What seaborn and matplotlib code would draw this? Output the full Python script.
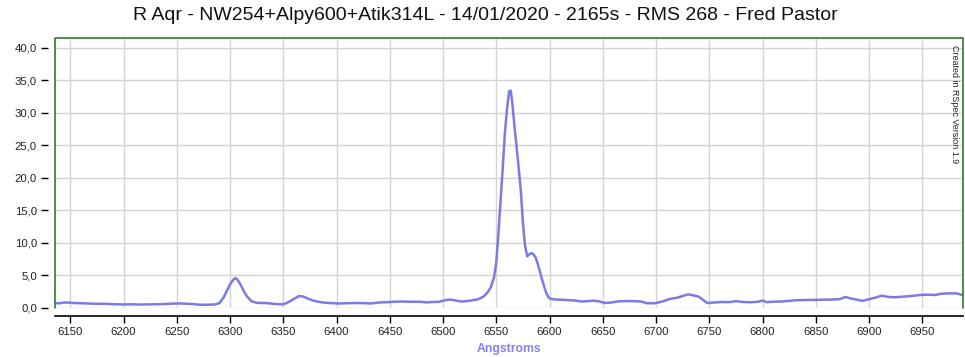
import matplotlib
matplotlib.use("Agg")
import matplotlib.pyplot as plt
import seaborn as sns
import pandas as pd
from matplotlib.ticker import FuncFormatter

wavelength = [6136, 6140, 6144, 6148, 6155, 6162, 6170, 6178, 6185, 6192, 6200, 6208, 6215, 6222,
              6230, 6238, 6245, 6252, 6258, 6265, 6272, 6280, 6286, 6290, 6294, 6297, 6300, 6303,
              6305, 6307, 6310, 6313, 6316, 6320, 6325, 6330, 6335, 6340, 6345, 6349, 6353, 6357,
              6361, 6365, 6369, 6373, 6378, 6383, 6388, 6395, 6402, 6410, 6418, 6425, 6432, 6440,
              6448, 6455, 6462, 6470, 6478, 6485, 6490, 6496, 6502, 6507, 6512, 6517, 6522, 6528,
              6533, 6538, 6542, 6545, 6548, 6550, 6552, 6554, 6556, 6558, 6560, 6562, 6563.5, 6565,
              6567, 6569, 6571, 6573, 6575, 6577, 6579, 6581, 6583, 6585, 6587, 6589, 6591, 6593,
              6595, 6597, 6599, 6601, 6606, 6612, 6618, 6624, 6630, 6636, 6641, 6647, 6652, 6658,
              6665, 6672, 6680, 6686, 6691, 6699, 6706, 6713, 6720, 6726, 6730, 6735, 6740, 6744,
              6748, 6755, 6762, 6768, 6775, 6780, 6788, 6795, 6800, 6804, 6810, 6818, 6825, 6832,
              6840, 6848, 6856, 6864, 6872, 6878, 6882, 6888, 6894, 6900, 6906, 6912, 6918, 6925,
              6932, 6940, 6948, 6955, 6962, 6968, 6975, 6982, 6988]
flux = [0.70, 0.68, 0.80, 0.78, 0.70, 0.68, 0.62, 0.60, 0.58, 0.52, 0.50, 0.52, 0.48, 0.50,
        0.52, 0.55, 0.62, 0.65, 0.62, 0.55, 0.45, 0.45, 0.50, 0.70, 1.6, 2.6, 3.6, 4.3,
        4.55, 4.3, 3.5, 2.5, 1.7, 1.0, 0.75, 0.72, 0.70, 0.60, 0.55, 0.50, 0.70, 1.05,
        1.45, 1.80, 1.70, 1.40, 1.10, 0.90, 0.78, 0.70, 0.65, 0.68, 0.72, 0.70, 0.65, 0.80,
        0.85, 0.92, 0.95, 0.90, 0.92, 0.80, 0.88, 0.90, 1.15, 1.25, 1.10, 0.95, 1.00, 1.15,
        1.30, 1.70, 2.40, 3.20, 4.80, 7.0, 11.5, 16.5, 21.5, 26.8, 30.5, 33.3, 33.4, 31.5,
        28.0, 24.8, 21.5, 18.0, 13.0, 9.5, 7.9, 8.2, 8.4, 8.2, 7.7, 6.7, 5.5, 4.3,
        3.2, 2.2, 1.6, 1.35, 1.25, 1.22, 1.15, 1.10, 0.95, 1.00, 1.08, 0.95, 0.72, 0.80,
        0.98, 1.02, 1.00, 0.95, 0.70, 0.68, 0.95, 1.35, 1.55, 1.85, 2.05, 1.90, 1.70, 1.20,
        0.72, 0.80, 0.88, 0.85, 1.00, 0.90, 0.83, 0.90, 1.08, 0.85, 0.92, 0.95, 1.05, 1.15,
        1.18, 1.20, 1.22, 1.25, 1.30, 1.65, 1.45, 1.25, 1.05, 1.30, 1.55, 1.85, 1.65, 1.60,
        1.70, 1.80, 1.95, 2.00, 1.95, 2.15, 2.20, 2.20, 1.95]

x_ticks = [6150, 6200, 6250, 6300, 6350, 6400, 6450, 6500, 6550, 6600, 6650, 6700, 6750,
           6800, 6850, 6900, 6950]
y_ticks = [0, 5, 10, 15, 20, 25, 30, 35, 40]

title = "R Aqr - NW254+Alpy600+Atik314L - 14/01/2020 - 2165s - RMS 268 - Fred Pastor"
xlabel = "Angstroms"
credit = "Created in RSpec Version 1.9"

df = pd.DataFrame({"wavelength": wavelength, "flux": flux})

sns.set_style("white")
plt.rcParams["font.family"] = ["Liberation Sans", "DejaVu Sans"]

W, H = 965, 357
fig = plt.figure(figsize=(W / 100, H / 100), dpi=100)
left, right, top, bottom = 55, 963, 38, 308
ax = fig.add_axes([left / W, 1 - bottom / H, (right - left) / W, (bottom - top) / H])

line_color = "#7b7be3"
sns.lineplot(data=df, x="wavelength", y="flux", ax=ax, color=line_color, linewidth=1.8)

ax.set_xlim(6135.6, 6988.2)
ax.set_ylim(-0.05, 41.5)
ax.set_xticks(x_ticks)
ax.set_yticks(y_ticks)
ax.yaxis.set_major_formatter(FuncFormatter(lambda v, p: f"{v:.1f}".replace(".", ",")))
ax.grid(True, color="#d4d4d4", linewidth=1.0)
ax.set_axisbelow(True)

for s in ["top", "right", "left"]:
    ax.spines[s].set_visible(False)
ax.spines["left"].set_position(("outward", 5))
ax.spines["bottom"].set_position(("outward", 6))
ax.spines["bottom"].set_color("black")
ax.spines["bottom"].set_linewidth(1.2)

ax.tick_params(axis="x", direction="out", length=5, width=1, color="black", pad=3,
               labelsize=8.2, labelcolor="#222222", bottom=True)
ax.tick_params(axis="y", direction="out", length=5, width=1, color="black", pad=3,
               labelsize=8.2, labelcolor="#222222", left=True)

# green frame (top, left, right)
green = "#2e7d2e"
ax.plot([0, 0, 1, 1], [0, 1, 1, 0], transform=ax.transAxes, color=green, linewidth=1.2,
        clip_on=False, zorder=5)

ax.set_xlabel(xlabel, color="#8383e3", fontweight="bold", fontsize=8.8, labelpad=4)
ax.set_ylabel("")
fig.text(485 / W, 1 - 15 / H, title, ha="center", va="center", fontsize=14, color="#111111")
ax.text(0.9905, 0.975, credit, transform=ax.transAxes, rotation=270, ha="center", va="top",
        fontsize=6.4, color="#222222")

fig.savefig("out.png", dpi=100)
